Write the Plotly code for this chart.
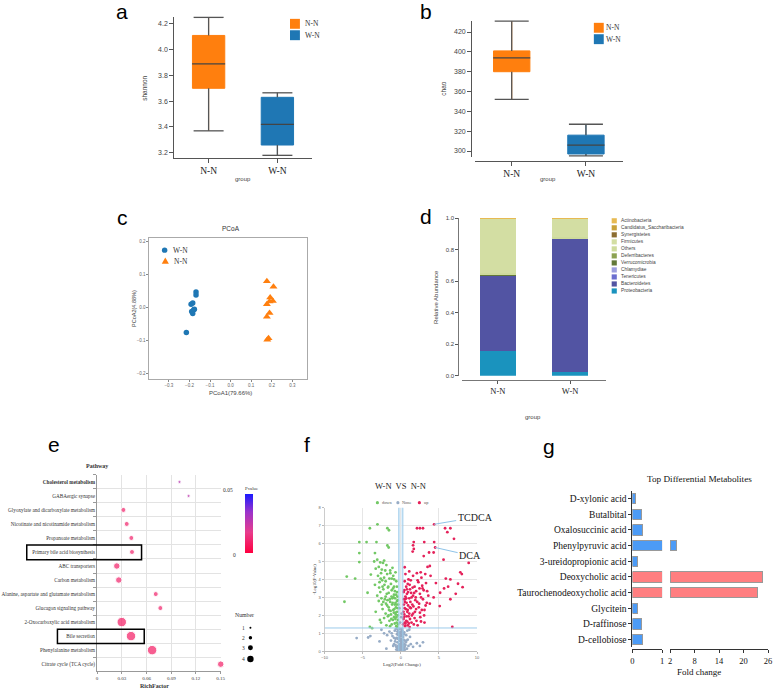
import plotly.graph_objects as go

W, H = 777, 693
def px(x): return x / W
def py(y): return 1 - y / H

SERIF = "Liberation Serif, Times New Roman, serif"
SANS = "Liberation Sans, Arial, sans-serif"

# ---------------- data ----------------
groups = ["N-N", "W-N"]
group_colors = ["#FF7F0E", "#1F77B4"]

# a: shannon box stats
shannon_lf = [3.37, 3.18]
shannon_q1 = [3.70, 3.26]
shannon_med = [3.89, 3.42]
shannon_q3 = [4.11, 3.63]
shannon_uf = [4.25, 3.665]

# b: chao box stats
chao_lf = [352, 295]
chao_q1 = [380, 297]
chao_med = [394, 306]
chao_q3 = [401, 316]
chao_uf = [431, 327]

# c: PCoA
pcoa_wn_x = [-0.168, -0.168, -0.192, -0.184, -0.179, -0.189, -0.184, -0.176, -0.215]
pcoa_wn_y = [0.048, 0.039, 0.011, 0.015, -0.006, -0.011, -0.017, -0.004, -0.075]
pcoa_nn_x = [0.176, 0.208, 0.192, 0.205, 0.189, 0.176, 0.189, 0.176, 0.184, 0.178]
pcoa_nn_y = [0.081, 0.064, 0.031, 0.021, 0.019, 0.011, -0.016, -0.027, -0.092, -0.097]

# d: relative abundance (legend order, top to bottom)
phyla = ["Actinobacteria", "Candidatus_Saccharibacteria", "Synergistetes", "Firmicutes",
         "Others", "Deferribacteres", "Verrucomicrobia", "Chlamydiae", "Tenericutes",
         "Bacteroidetes", "Proteobacteria"]
abund_nn = [0.002, 0.001, 0.0, 0.346, 0.010, 0.002, 0.005, 0.0, 0.001, 0.478, 0.155]
abund_wn = [0.001, 0.001, 0.0, 0.117, 0.008, 0.001, 0.004, 0.0, 0.0, 0.843, 0.025]
phylum_colors = ["#E7BA52", "#C9A23A", "#8C6D31", "#D3DEA3", "#CEDB9C", "#8CA252",
                 "#637939", "#9C9EDE", "#6B6ECF", "#5254A3", "#1A93BE"]

# e: KEGG enrichment
pathways = ["Cholesterol metabolism", "GABAergic synapse", "Glyoxylate and dicarboxylate metabolism",
            "Nicotinate and nicotinamide metabolism", "Propanoate metabolism",
            "Primary bile acid biosynthesis", "ABC transporters", "Carbon metabolism",
            "Alanine, aspartate and glutamate metabolism", "Glucagon signaling pathway",
            "2-Oxocarboxylic acid metabolism", "Bile secretion", "Phenylalanine metabolism",
            "Citrate cycle (TCA cycle)"]
rich_factor = [0.100, 0.111, 0.032, 0.036, 0.0416, 0.0424, 0.024, 0.0264, 0.0712, 0.0768,
               0.030, 0.0412, 0.0668, 0.150]
gene_number = [1, 1, 2, 2, 2, 2, 3, 3, 2, 2, 4, 4, 4, 3]
pvalues = [0.028, 0.027, 0.010, 0.010, 0.010, 0.010, 0.009, 0.010, 0.010, 0.010,
           0.008, 0.008, 0.008, 0.009]
number_sizes = {1: 3.2, 2: 5, 3: 6.5, 4: 9.5}

# f: volcano
down_x = [-3.07, -4.07, -1.77, -1.56, -5.45, -4.5, -3.2, -1.77, -1.6, -5.45, -3.4, -5.45, -3.5, -2.34,
          -7.1, -6.0, -7.4, -4.37, -3.94, -4.07, -3.77,
          -3.1, -2.7, -2.2,
          -3.3, -2.9, -2.5, -1.9, -1.4, -1.1,
          -3.0, -2.6, -2.2, -1.8, -1.5, -1.0, -0.7,
          -3.4, -2.8, -2.4, -2.0, -1.7, -1.3, -0.9, -0.6,
          -3.1, -2.7, -2.3, -2.0, -1.6, -1.2, -0.9, -0.5,
          -2.9, -2.5, -2.1, -1.8, -1.4, -1.1, -0.8, -0.5,
          -3.3, -2.4, -2.0, -1.6, -1.3, -1.0, -0.7, -0.45,
          -2.6, -2.2, -1.9, -1.5, -1.2, -0.9, -0.6, -0.4, -1.7,
          -0.35, -0.55, -0.75, -1.05, -0.45, -0.8, -1.35, -0.65,
          -0.4, -0.5, -0.6, -0.7, -0.85, -0.95, -1.15, -1.25, -1.45, -1.55,
          -1.65, -1.85, -1.95, -2.05, -2.15, -2.3, -2.45, -2.55, -2.65, -2.75,
          -2.85, -0.38, -0.42, -0.52, -0.62, -0.72, -0.88, -1.02, -1.18, -1.38,
          -0.48, -0.58, -0.68, -0.78, -0.92, -1.08, -1.22, -1.42, -1.62, -1.75]
down_y = [7.07, 6.85, 6.85, 6.74, 6.08, 6.08, 6.08, 5.89, 5.78, 5.47, 5.47, 4.97, 5.0, 4.92,
          4.16, 4.05, 2.76, 3.26, 4.27, 1.36, 1.29,
          5.1, 4.95, 5.05,
          4.6, 4.7, 4.55, 4.8, 4.5, 4.65,
          4.2, 4.35, 4.1, 4.3, 4.05, 4.2, 4.4,
          3.7, 3.85, 3.6, 3.9, 3.55, 3.75, 3.6, 3.9,
          3.1, 3.3, 3.45, 3.05, 3.25, 3.4, 3.15, 3.3,
          2.8, 2.6, 2.9, 2.55, 2.75, 2.95, 2.6, 2.8,
          2.2, 2.35, 2.1, 2.45, 2.05, 2.3, 2.15, 2.4,
          1.6, 1.85, 1.45, 1.7, 1.5, 1.9, 1.4, 1.75, 1.95,
          2.6, 1.6, 2.95, 1.75, 3.05, 1.55, 2.25, 2.45,
          2.0, 2.2, 1.9, 2.7, 2.35, 3.0, 2.6, 1.8, 2.9, 2.3,
          3.6, 3.2, 2.65, 4.5, 3.7, 2.75, 3.95, 2.95, 4.05, 1.75,
          3.55, 1.5, 2.85, 3.6, 3.15, 1.8, 4.0, 3.5, 4.05, 4.35,
          1.35, 2.6, 2.05, 3.35, 2.15, 2.7, 3.05, 1.4, 2.0, 2.85]
up_x = [4.37, 2.12, 2.5, 2.9, 5.8, 6.5, 6.1, 6.97, 1.69, 3.07, 4.37, 4.5, 1.6, 1.7, 1.55, 3.7, 4.3,
        3.0, 5.6, 8.9, 7.8, 8.0, 0.5, 3.5, 3.8, 5.9, 6.5, 8.1, 7.5, 5.67, 5.15, 6.5, 7.2, 5.1, 3.8,
        6.75, 2.64, 3.1, 4.3, 4.6, 3.9, 2.6, 6.2,
        0.6, 1.1, 1.6, 2.1, 2.7, 3.2,
        0.5, 0.9, 1.3, 1.8, 2.3, 2.8, 3.3,
        0.45, 0.8, 1.2, 1.6, 2.0, 2.5, 3.0, 3.6,
        0.4, 0.75, 1.1, 1.5, 1.9, 2.4, 2.9, 3.4,
        0.5, 0.85, 1.2, 1.6, 2.0, 2.5, 3.1,
        0.4, 0.7, 1.0, 1.4, 1.8, 2.2, 0.55, 1.15,
        0.35, 0.6, 0.95, 1.35, 0.5, 0.9, 1.25, 0.7, 1.0,
        0.3, 0.35, 0.4, 0.45, 0.55, 0.6, 0.65, 0.7, 0.75, 0.8,
        0.85, 0.9, 0.95, 1.05, 1.1, 1.15, 1.2, 1.3, 1.4, 1.45,
        1.55, 1.65, 1.7, 1.75, 1.85, 1.95, 2.05, 2.15, 2.2, 2.35,
        2.45, 2.55, 2.65, 2.75, 2.85, 3.05, 3.25, 3.45, 0.38, 0.52]
up_y = [7.07, 6.85, 6.85, 6.85, 6.85, 6.85, 6.63, 6.26, 6.08, 6.08, 6.08, 5.78, 5.9, 5.7, 5.55, 5.5,
        5.5, 5.3, 5.1, 4.92, 4.4, 4.3, 4.68, 4.7, 4.75, 4.05, 4.0, 3.57, 3.76, 3.5, 3.26, 2.9, 3.2,
        2.52, 2.65, 1.36, 1.66, 1.6, 3.0, 3.8, 4.2, 4.4, 3.6,
        4.3, 4.45, 4.2, 4.35, 4.1, 4.3,
        3.9, 3.75, 3.95, 3.6, 3.85, 3.65, 3.8,
        3.4, 3.2, 3.45, 3.1, 3.35, 3.2, 3.4, 3.1,
        2.9, 2.7, 2.95, 2.6, 2.85, 2.65, 2.9, 2.7,
        2.4, 2.2, 2.45, 2.1, 2.35, 2.15, 2.3,
        1.9, 1.7, 1.95, 1.6, 1.85, 1.45, 1.4, 1.35,
        2.2, 3.05, 2.55, 3.25, 1.6, 1.45, 2.75, 3.6, 4.0,
        1.5, 1.8, 2.6, 2.05, 2.9, 1.55, 2.35, 2.95, 1.95, 3.45,
        1.65, 2.3, 3.3, 1.55, 2.1, 3.7, 1.8, 2.4, 3.0, 2.0,
        3.55, 2.5, 1.5, 3.25, 2.2, 3.0, 1.7, 2.75, 3.95, 2.45,
        3.5, 1.9, 3.0, 2.3, 3.5, 2.0, 2.55, 3.35, 3.3, 2.75]
none_x = [-5.8, -4.29, -4.0, -2.55, -2.2, -1.8, -1.5, -1.3, -1.1, -0.9,
          -0.8, -0.7, -0.6, -0.5, -0.45, -0.35, -0.3, -0.25, -0.2, -0.15,
          -0.1, -0.05, 0.0, 0.05, 0.1, 0.15, 0.2, 0.25, 0.3, 0.4,
          0.45, 0.5, 0.6, 0.7, 0.8, 0.9, 1.1, 1.3, 1.6, 2.1,
          2.5, 2.9, -1.9, -2.8,
          -0.1, 0.1, -0.2, 0.05,
          -0.4, 0.35, -0.6, 0.55, -0.15, 0.2, -0.35, 0.65, -0.75, -1.0,
          1.0, -0.55, 0.35, -0.25, 0.15, -0.65, 0.85,
          -0.05, 0.0, 0.05, -0.1, 0.1, -0.2, 0.2, -0.3, 0.3, -0.4,
          0.4, -0.5, 0.5, -0.15, 0.15, -0.25, 0.25, -0.45, 0.45, -0.7,
          0.75, -0.9, 1.2, -1.2, 0.0, 0.05, -0.05, 0.1, -0.1, 0.0]
none_y = [0.74, 0.77, 0.85, 1.2, 1.0, 0.9, 1.1, 0.6, 0.85, 0.4,
          1.15, 0.7, 0.25, 0.95, 0.5, 1.2, 0.15, 0.75, 0.4, 1.0,
          0.05, 0.6, 0.3, 0.9, 0.1, 0.55, 1.15, 0.35, 0.8, 0.2,
          1.05, 0.6, 0.35, 0.9, 0.15, 0.65, 1.2, 0.4, 0.25, 0.45,
          0.3, 0.5, 0.15, 0.55,
          1.6, 2.1, 2.4, 1.9,
          0.05, 0.05, 0.1, 0.1, 0.2, 0.25, 0.3, 0.5, 0.55, 0.3,
          0.3, 0.75, 0.65, 1.05, 1.25, 1.25, 1.15,
          0.1, 0.7, 0.45, 0.85, 0.65, 0.6, 0.5, 0.9, 0.15, 0.7,
          0.95, 0.2, 0.25, 1.25, 0.85, 0.05, 1.0, 1.1, 0.4, 0.35,
          0.6, 0.75, 0.8, 1.0, 1.1, 0.2, 0.4, 1.05, 0.3, 0.55]
FC_LOW, FC_HIGH, P_LINE = -0.27, 0.26, 1.3
TCDCA_IDX, DCA_IDX = 0, 11

# g: top differential metabolites
metabolites = ["D-xylonic acid", "Butalbital", "Oxalosuccinic acid", "Phenylpyruvic acid",
               "3-ureidopropionic acid", "Deoxycholic acid", "Taurochenodeoxycholic acid",
               "Glycitein", "D-raffinose", "D-cellobiose"]
fold_change = [0.10, 0.30, 0.34, 3.5, 0.17, 24.7, 23.3, 0.16, 0.31, 0.34]
bile_acid = [False, False, False, False, False, True, True, False, False, False]
BREAK_LO, BREAK_HI = 1, 2

# ---------------- figure ----------------
fig = go.Figure()
DARK = "#555555"
LINE_EW = 1.4  # plotly draws 'line-ew' with length 1.4 * size

def add_boxes(xa, ya, lf, q1, med, q3, uf, width, cap_px, box_px):
    for i, g in enumerate(groups):
        fig.add_trace(go.Box(x=[g], lowerfence=[lf[i]], q1=[q1[i]], median=[med[i]], q3=[q3[i]],
                             upperfence=[uf[i]], width=width, fillcolor=group_colors[i],
                             line=dict(color=group_colors[i], width=1), whiskerwidth=0,
                             xaxis=xa, yaxis=ya, showlegend=False, hoverinfo="skip"))
        fig.add_trace(go.Scatter(x=[g, g, None, g, g], y=[lf[i], q1[i], None, q3[i], uf[i]],
                                 mode="lines", line=dict(color=DARK, width=1.3),
                                 xaxis=xa, yaxis=ya, showlegend=False, hoverinfo="skip"))
        fig.add_trace(go.Scatter(x=[g, g], y=[lf[i], uf[i]], mode="markers",
                                 marker=dict(symbol="line-ew", size=cap_px / LINE_EW,
                                             line=dict(color=DARK, width=1.3)),
                                 xaxis=xa, yaxis=ya, showlegend=False, hoverinfo="skip", cliponaxis=False))
        fig.add_trace(go.Scatter(x=[g], y=[med[i]], mode="markers",
                                 marker=dict(symbol="line-ew", size=box_px / LINE_EW,
                                             line=dict(color="#444", width=1.3)),
                                 xaxis=xa, yaxis=ya, showlegend=False, hoverinfo="skip"))

add_boxes("x", "y", shannon_lf, shannon_q1, shannon_med, shannon_q3, shannon_uf, 0.47, 30, 33)
add_boxes("x2", "y2", chao_lf, chao_q1, chao_med, chao_q3, chao_uf, 0.49, 34, 37)

# c
fig.add_trace(go.Scatter(x=pcoa_wn_x, y=pcoa_wn_y, mode="markers", xaxis="x3", yaxis="y3",
                         marker=dict(symbol="circle", size=5.5, color=group_colors[1]), showlegend=False))
fig.add_trace(go.Scatter(x=pcoa_nn_x, y=pcoa_nn_y, mode="markers", xaxis="x3", yaxis="y3",
                         marker=dict(symbol="triangle-up", size=7, color=group_colors[0]), showlegend=False))

# d (stack bottom->top)
for k in reversed(range(len(phyla))):
    fig.add_trace(go.Bar(x=groups, y=[abund_nn[k], abund_wn[k]], marker=dict(color=phylum_colors[k], line=dict(width=0)),
                         width=0.49, xaxis="x4", yaxis="y4", showlegend=False, name=phyla[k]))

# e
fig.add_trace(go.Scatter(
    x=rich_factor, y=pathways, mode="markers", xaxis="x5", yaxis="y5", cliponaxis=False,
    marker=dict(size=[number_sizes[n] for n in gene_number], color=pvalues, cmin=0, cmax=0.05,
                colorscale=[[0, "#FF0040"], [0.35, "#E83C8C"], [0.7, "#9933CC"], [1, "#1A1AFF"]],
                showscale=True,
                colorbar=dict(x=px(245), xanchor="left", y=py(525.5), yanchor="middle",
                              len=59, lenmode="pixels", thickness=8, thicknessmode="pixels",
                              outlinewidth=0, showticklabels=False, ticks="", xpad=0, ypad=0)),
    showlegend=False))

# f
fig.add_trace(go.Scatter(x=none_x, y=none_y, mode="markers", xaxis="x6", yaxis="y6",
                         marker=dict(size=2.8, color="#97ACC6"), showlegend=False))
fig.add_trace(go.Scatter(x=down_x, y=down_y, mode="markers", xaxis="x6", yaxis="y6",
                         marker=dict(size=2.8, color="#72C865"), showlegend=False))
fig.add_trace(go.Scatter(x=up_x, y=up_y, mode="markers", xaxis="x6", yaxis="y6",
                         marker=dict(size=2.8, color="#E5215A"), showlegend=False))

# g
g_colors = ["#FF7E80" if b else "#4C9BF6" for b in bile_acid]
fig.add_trace(go.Bar(x=[min(v, BREAK_LO) for v in fold_change], y=metabolites, orientation="h",
                     marker=dict(color=g_colors, line=dict(color="#999", width=1)), width=0.66,
                     xaxis="x7", yaxis="y7", showlegend=False))
fig.add_trace(go.Bar(x=[(v - BREAK_HI) if v > BREAK_HI else None for v in fold_change], y=metabolites,
                     base=BREAK_HI, orientation="h",
                     marker=dict(color=g_colors, line=dict(color="#999", width=1)), width=0.66,
                     xaxis="x8", yaxis="y7", showlegend=False))

# ---------------- axes ----------------
def ax(**kw):
    d = dict(showgrid=False, zeroline=False, showline=True, linecolor="#555", linewidth=1,
             ticks="outside", ticklen=3, tickcolor="#555", tickwidth=1)
    d.update(kw)
    return d

tick_sans = lambda s, c="#444": dict(family=SANS, size=s, color=c)
tick_serif = lambda s, c="#222": dict(family=SERIF, size=s, color=c)

layout = dict(
    width=W, height=H, margin=dict(l=0, r=0, t=0, b=0), paper_bgcolor="white", plot_bgcolor="white",
    showlegend=False, hovermode=False, barmode="stack", boxmode="overlay",
    xaxis=ax(domain=[px(173), px(312)], anchor="y", type="category", categoryorder="array",
             categoryarray=groups, range=[-0.5, 1.5], ticklen=4, tickfont=tick_serif(9.5)),
    yaxis=ax(domain=[py(156), py(14)], anchor="x", range=[3.162, 4.254], tick0=3.2, dtick=0.2,
             tickformat=".1f", ticklen=4, tickfont=tick_sans(7)),
    xaxis2=ax(domain=[px(476.5), px(626.5)], anchor="free", position=py(159), type="category",
              categoryorder="array", categoryarray=groups, range=[-0.5, 1.5], ticklen=4,
              tickfont=tick_serif(9.5)),
    yaxis2=ax(domain=[py(155), py(18)], anchor="free", position=px(473), range=[294.3, 431.3],
              tick0=300, dtick=20, ticklen=4, tickfont=tick_sans(7)),
    xaxis3=ax(domain=[px(148), px(307)], anchor="y3", range=[-0.394, 0.370], tick0=0, dtick=0.1,
              tickformat=".1f", mirror=True, linecolor="#AAA", tickcolor="#888", ticklen=2,
              tickfont=tick_sans(4.5, "#666")),
    yaxis3=ax(domain=[py(379), py(237)], anchor="x3", range=[-0.215, 0.212], tick0=0, dtick=0.1,
              tickformat=".1f", mirror=True, linecolor="#AAA", tickcolor="#888", ticklen=2,
              tickfont=tick_sans(4.5, "#666")),
    xaxis4=ax(domain=[px(463.5), px(609.5)], anchor="free", position=py(380), type="category",
              categoryorder="array", categoryarray=groups, range=[-0.5, 1.5], linecolor="#777",
              tickfont=tick_serif(8.5)),
    yaxis4=ax(domain=[py(376), py(217)], anchor="free", position=px(460), range=[0, 1], dtick=0.2,
              tickformat=".1f", linecolor="#777", tickfont=tick_sans(6)),
    xaxis5=ax(domain=[px(95), px(220)], anchor="y5", range=[0, 0.15], tick0=0, dtick=0.03,
              showgrid=True, gridcolor="#E3E3E3", linecolor="#999", ticklen=2, tickcolor="#999",
              tickfont=tick_serif(5, "#333")),
    yaxis5=ax(domain=[py(674), py(476)], anchor="x5", type="category", categoryorder="array",
              categoryarray=pathways, range=[len(pathways) - 0.5, -0.5], tickson="boundaries",
              tickvals=pathways,
              ticktext=["<b>" + p + "</b>" if i == 0 else p for i, p in enumerate(pathways)],
              showgrid=True, gridcolor="#E3E3E3", linecolor="#999", tickcolor="#999", ticklen=3,
              tickfont=tick_serif(5.2, "#333")),
    xaxis6=ax(domain=[px(325), px(479)], anchor="y6", range=[-10, 10], dtick=5, showgrid=True,
              gridcolor="#E6E6E6", linecolor="#BBB", tickcolor="#BBB", ticklen=2,
              tickfont=tick_sans(4, "#666")),
    yaxis6=ax(domain=[py(654), py(509)], anchor="x6", range=[0, 8], dtick=1, showgrid=True,
              gridcolor="#E6E6E6", linecolor="#CCC", tickcolor="#BBB", ticklen=2,
              tickfont=tick_sans(4, "#666")),
    yaxis7=ax(domain=[py(650), py(492)], anchor="x7", type="category", categoryorder="array",
              categoryarray=metabolites, range=[len(metabolites) - 0.5, -0.5], linecolor="#333",
              tickcolor="#333", ticklen=3, tickfont=tick_serif(9.5, "#111")),
    xaxis7=ax(domain=[px(636), px(666)], anchor="free", position=py(652), range=[0, BREAK_LO],
              tickvals=[0, BREAK_LO], linecolor="#333", tickcolor="#333", ticklen=3,
              tickfont=tick_serif(8.5, "#111")),
    xaxis8=ax(domain=[px(674), px(773)], anchor="free", position=py(652), range=[BREAK_HI, 26],
              tick0=BREAK_HI, dtick=6, linecolor="#333", tickcolor="#333", ticklen=3,
              tickfont=tick_serif(8.5, "#111")),
)
fig.update_layout(**layout)

# ---------------- annotations & decorations ----------------
anns = []
def txt(t, x, y, size, family=SANS, color="#333", xanchor="center", yanchor="middle", angle=0, **kw):
    anns.append(dict(text=t, x=px(x), y=py(y), xref="paper", yref="paper", showarrow=False,
                     font=dict(family=family, size=size, color=color), xanchor=xanchor,
                     yanchor=yanchor, textangle=angle, **kw))

# panel letters
for lab, x, y in [("a", 120.5, 9), ("b", 427.5, 9), ("c", 120.5, 216), ("d", 427.5, 215.5),
                  ("e", 51.5, 445.5), ("f", 307, 445.5), ("g", 551.5, 447)]:
    txt(lab, x, y, 21, SANS, "#000")

# a/b axis titles
txt("group", 242.5, 178, 6, SANS, "#444")
txt("shannon", 143, 86, 6.5, SANS, "#444", angle=-90)
txt("group", 551, 178, 6, SANS, "#444")
txt("chao", 445, 86, 6.5, SANS, "#444", angle=-90)

shapes = []
def rect(x0, y0, x1, y1, **kw):
    shapes.append(dict(type="rect", xref="paper", yref="paper", x0=px(x0), x1=px(x1),
                       y0=py(y1), y1=py(y0), **kw))
def circ(cx, cy, d, color):
    shapes.append(dict(type="circle", xref="paper", yref="paper", x0=px(cx - d / 2), x1=px(cx + d / 2),
                       y0=py(cy + d / 2), y1=py(cy - d / 2), fillcolor=color, line=dict(width=0)))

# a/b legends
for (sx, sy, tx) in [(290, 16, 312.5), (597, 20, 616.5)]:
    for i, g in enumerate(groups):
        rect(sx, sy + i * 11.5, sx + 10, sy + 10 + i * 11.5, fillcolor=group_colors[i], line=dict(width=0))
        txt(g, tx, sy + 5 + i * 11.5, 7.5, SERIF, "#333")

# c
txt("PCoA", 230, 227, 6.5, SANS, "#333")
txt("PCoA1(79.66%)", 230, 393, 6, SANS, "#444")
txt("PCoA2(4.88%)", 133, 308, 5.5, SANS, "#444", angle=-90)
circ(163.3, 249.3, 5.5, group_colors[1])
tx0, ty0 = 164, 260
shapes.append(dict(type="path", xref="paper", yref="paper",
                   path=f"M {px(tx0-3.6)} {py(ty0+3)} L {px(tx0+3.6)} {py(ty0+3)} L {px(tx0)} {py(ty0-3.4)} Z",
                   fillcolor=group_colors[0], line=dict(width=0)))
txt("W-N", 170, 249.5, 7.5, SERIF, "#333", xanchor="left")
txt("N-N", 170.5, 260.5, 7.5, SERIF, "#333", xanchor="left")

# d
txt("Relative Abundance", 438, 296, 6, SANS, "#444", angle=-90)
txt("group", 536, 418, 6, SANS, "#444")
for i, p in enumerate(phyla):
    cy = 219.7 + i * 7.08
    rect(615, cy - 2.6, 620.2, cy + 2.6, fillcolor=phylum_colors[i], line=dict(width=0))
    txt(p, 622, cy, 4.8, SANS, "#444", xanchor="left")

# e
txt("<b>Pathway</b>", 94.7, 466.7, 6, SERIF, "#333")
txt("<b>RichFactor</b>", 153, 689, 6, SERIF, "#333")
txt("Pvalue", 251.5, 489.3, 4.8, SERIF, "#333")
txt("0.05", 227, 491.5, 5.5, SERIF, "#333")
txt("0", 234, 556.7, 5.5, SERIF, "#333")
txt("Number", 244, 617, 5.8, SERIF, "#333")
for n, cy in zip([1, 2, 3, 4], [630.3, 640.3, 650.3, 661.7]):
    txt(str(n), 242.7, cy, 5.5, SERIF, "#333")
    circ(250, cy, [2, 3.5, 5, 6.5][n - 1], "#000")
rect(24, 546.7, 140, 561.7, line=dict(color="#000", width=1.5))
rect(55, 631.7, 142.7, 646, line=dict(color="#000", width=1.5))

# f
txt("W-N\u00a0 VS\u00a0 N-N", 402, 487, 8.5, SERIF, "#222")
for cx, col, lab in [(378.3, "#72C865", "down"), (399, "#97ACC6", "None"), (420.7, "#E5215A", "up")]:
    circ(cx, 504, 3.2, col)
    txt(lab, cx + 2.6, 504, 4.3, SERIF, "#555", xanchor="left")
txt("Log2(Fold Change)", 403, 667, 4.8, SERIF, "#333")
txt("-Log10(P-Value)", 315, 581, 4.5, SERIF, "#333", angle=-90)
for xv in [FC_LOW, FC_HIGH]:
    shapes.append(dict(type="line", xref="x6", yref="y6", x0=xv, x1=xv, y0=0, y1=8,
                       line=dict(color="#9CCBEA", width=1)))
shapes.append(dict(type="rect", xref="x6", yref="y6", x0=FC_LOW, x1=FC_HIGH, y0=0, y1=8,
                   fillcolor="rgba(170,210,240,0.35)", line=dict(width=0), layer="below"))
shapes.append(dict(type="line", xref="x6", yref="y6", x0=-10, x1=10, y0=P_LINE, y1=P_LINE,
                   line=dict(color="#9CCBEA", width=1)))
for idx, lab, dx, dy in [(TCDCA_IDX, "TCDCA", 41, -7), (DCA_IDX, "DCA", 35, 8)]:
    anns.append(dict(text=lab, x=up_x[idx], y=up_y[idx], xref="x6", yref="y6", showarrow=True,
                     ax=dx, ay=dy, arrowhead=0, arrowwidth=1, arrowcolor="#8EC3E8", standoff=0,
                     font=dict(family=SERIF, size=10, color="#222")))

# g
txt("Top Differential Metabolites", 704, 480, 9.2, SERIF, "#111")
txt("Fold change", 703, 675, 9, SERIF, "#111")

fig.update_layout(annotations=anns, shapes=shapes)
fig.write_html("out.html", config={"displayModeBar": False},
               post_script="document.body.style.margin='0px';document.body.style.overflow='hidden';")
